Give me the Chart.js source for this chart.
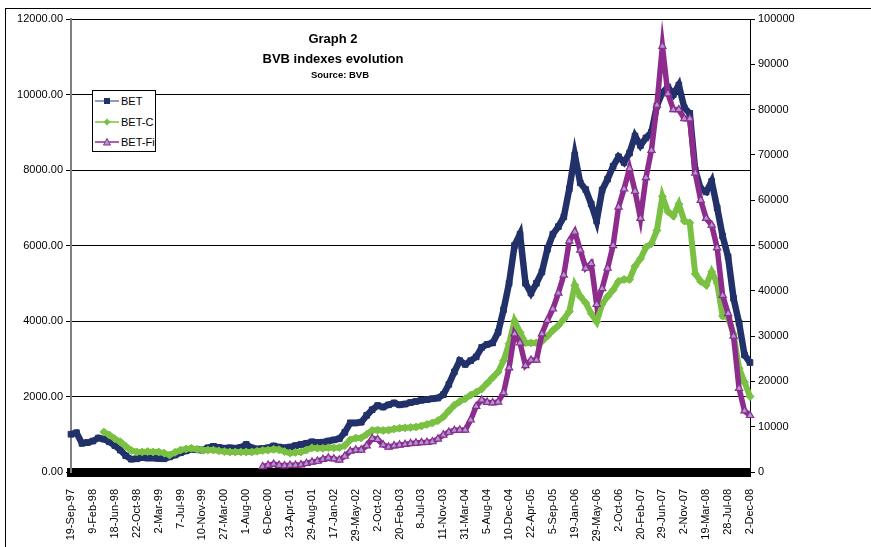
<!DOCTYPE html>
<html>
<head>
<meta charset="utf-8">
<script src="https://cdn.jsdelivr.net/npm/chart.js@4.4.1/dist/chart.umd.min.js"></script>
<style>
    body { margin: 0; background: #fff; font-family: "Liberation Sans", Arial, sans-serif; }
    #wrap { position: relative; width: 871px; height: 547px; overflow: hidden; }
    #frame { position: absolute; left: 5px; top: 8px; width: 900px; height: 600px;
             border-left: 1.5px solid #000; border-top: 1.5px solid #000; }
    #chart { position: absolute; left: 0; top: 0; }
    .title { position: absolute; font-weight: bold; color: #000; white-space: nowrap; transform: translate(-50%, -50%); }
    #legend { position: absolute; left: 92px; top: 90px; width: 62px; height: 60px;
              background: #fff; border: 1px solid #000; font-size: 11px; }
    #legend .row { position: absolute; left: 2px; height: 14px; display: flex; align-items: center; }
    #legend svg { margin-right: 2px; }
</style>
</head>
<body>
<div id="wrap">
    <div id="frame"></div>
    <canvas id="chart" width="871" height="547"></canvas>
    <div class="title" style="left:333px; top:38px; font-size:13px;">Graph 2</div>
    <div class="title" style="left:333px; top:58px; font-size:13px;">BVB indexes evolution</div>
    <div class="title" style="left:340px; top:74px; font-size:9.5px;">Source: BVB</div>
    <div id="legend"></div>
</div>
<script>
// Etiquetas del eje X (una cada 4 puntos)
const tickLabels = ['19-Sep-97', '9-Feb-98', '18-Jun-98', '22-Oct-98', '2-Mar-99', '7-Jul-99', '10-Nov-99',
    '27-Mar-00', '1-Aug-00', '6-Dec-00', '23-Apr-01', '29-Aug-01', '17-Jan-02', '29-May-02', '2-Oct-02',
    '20-Feb-03', '8-Jul-03', '11-Nov-03', '31-Mar-04', '5-Aug-04', '10-Dec-04', '22-Apr-05', '5-Sep-05',
    '19-Jan-06', '29-May-06', '2-Oct-06', '20-Feb-07', '29-Jun-07', '2-Nov-07', '19-Mar-08', '28-Jul-08', '2-Dec-08'];
const pointsPerTick = 4;

const seriesNames = ['BET', 'BET-C', 'BET-Fi'];

// BET (eje izquierdo)
const bet = [1000, 1040, 760, 780, 820, 900, 870, 800, 700, 580,
    430, 340, 350, 380, 370, 370, 360, 350, 400, 450,
    510, 560, 600, 590, 580, 640, 680, 650, 630, 640,
    630, 650, 730, 640, 610, 620, 640, 690, 660, 640,
    660, 700, 730, 760, 800, 780, 790, 820, 850, 880,
    1050, 1300, 1300, 1320, 1500, 1650, 1760, 1720, 1780, 1830,
    1780, 1800, 1840, 1870, 1900, 1920, 1940, 1960, 2050, 2320,
    2650, 2950, 2850, 2950, 3050, 3300, 3380, 3420, 3700, 4300,
    5000, 6000, 6300, 5000, 4740, 5000, 5300, 5900, 6300, 6500,
    6760, 7500, 8400, 7660, 7480, 7100, 6650, 7470, 7760, 8100,
    8350, 8200, 8450, 8900, 8650, 8850, 9000, 9700, 10050, 10200,
    10000, 10250, 9650, 9500, 8000, 7500, 7420, 7700, 7000, 6250,
    5700, 4600, 3950, 3100, 2900];

// BET-C (eje izquierdo)
const betC = [null, null, null, null, null, null, 1060, 980, 880, 800,
    680, 570, 530, 530, 540, 530, 530, 500, 450, 520,
    580, 610, 630, 600, 580, 580, 580, 560, 540, 530,
    530, 530, 530, 530, 550, 570, 580, 600, 590, 540,
    500, 520, 530, 580, 640, 630, 630, 640, 640, 650,
    700, 850, 900, 900, 1000, 1100, 1110, 1100, 1110, 1140,
    1160, 1170, 1180, 1190, 1220, 1260, 1300, 1360, 1460, 1620,
    1770, 1870, 1940, 2040, 2110, 2200, 2350, 2500, 2650, 2950,
    3400, 4000, 3700, 3420, 3420, 3420, 3460, 3600, 3750, 3880,
    4050, 4250, 4950, 4650, 4480, 4200, 3980, 4450, 4650, 4820,
    5050, 5100, 5100, 5450, 5650, 5950, 6050, 6400, 7300, 6900,
    6780, 7100, 6650, 6600, 5250, 5050, 4950, 5300, 5000, 4130,
    4100, 3650, 2750, 2380, 2000];

// BET-Fi (eje derecho)
const betFi = [null, null, null, null, null, null, null, null, null, null,
    null, null, null, null, null, null, null, null, null, null,
    null, null, null, null, null, null, null, null, null, null,
    null, null, null, null, null, 1200, 1500, 1750, 1500, 1400,
    1500, 1500, 1600, 1900, 2200, 2400, 2800, 3090, 2900, 2650,
    3500, 4600, 4860, 4860, 5800, 7400, 7200, 6000, 5500, 5800,
    5960, 6100, 6300, 6400, 6500, 6550, 6700, 7300, 8170, 8800,
    9200, 9270, 9270, 11500, 14500, 15900, 15400, 15300, 15460, 17500,
    23000, 30500, 28500, 23500, 24700, 24700, 30500, 33500, 36000, 39500,
    43500, 51000, 53000, 49000, 45000, 46000, 37000, 40500, 45000, 50000,
    58500, 62500, 67000, 62000, 56000, 65000, 71000, 81000, 94000, 83500,
    80000, 80000, 78000, 78000, 66000, 60000, 56000, 54500, 49500, 39000,
    35000, 30000, 18500, 13500, 12500];

const categories = bet.map((v, i) => i % pointsPerTick === 0 ? tickLabels[i / pointsPerTick] : '');

const styles = [
    { color: '#22316A', line: '#6B78A8', point: 'rect', fill: '#22316A', r: 4 },
    { color: '#7AC143', line: '#7AC143', point: 'rectRot', fill: '#7AC143', r: 4 },
    { color: '#8E2C8E', line: '#8E2C8E', point: 'triangle', fill: '#A99CD2', r: 4.2 }
];

const font = { family: '"Liberation Sans", Arial, sans-serif', size: 11 };

new Chart(document.getElementById('chart'), {
    type: 'line',
    data: {
        labels: categories,
        datasets: [
            { label: seriesNames[0], data: bet, yAxisID: 'y', order: 3,
              borderColor: styles[0].color, backgroundColor: styles[0].fill, borderWidth: 6.5,
              pointStyle: styles[0].point, pointRadius: styles[0].r, pointBorderWidth: 1,
              pointBorderColor: styles[0].color },
            { label: seriesNames[1], data: betC, yAxisID: 'y', order: 2,
              borderColor: styles[1].color, backgroundColor: styles[1].fill, borderWidth: 6,
              pointStyle: styles[1].point, pointRadius: styles[1].r, pointBorderWidth: 1,
              pointBorderColor: styles[1].color },
            { label: seriesNames[2], data: betFi, yAxisID: 'y1', order: 1,
              borderColor: styles[2].color, backgroundColor: styles[2].fill, borderWidth: 5.5,
              pointStyle: styles[2].point, pointRadius: styles[2].r, pointBorderWidth: 1.2,
              pointBorderColor: styles[2].color }
        ]
    },
    options: {
        responsive: false,
        animation: false,
        layout: { padding: { top: 19, left: 0, right: 0, bottom: 0 } },
        plugins: { legend: { display: false }, tooltip: { enabled: false } },
        scales: {
            x: {
                grid: { display: false },
                border: { display: true, color: '#000', width: 9 },
                ticks: {
                    autoSkip: false, maxRotation: 90, minRotation: 90, padding: 9,
                    color: '#000', font: font,
                    callback: function(v, i) { return categories[i]; }
                },
                afterFit: function(s) { s.height = 75; }
            },
            y: {
                position: 'left', min: 0, max: 12000,
                grid: { color: '#000', lineWidth: 1, tickLength: 5 },
                border: { color: '#808080', width: 2 },
                ticks: { stepSize: 2000, padding: 3, color: '#000', font: font,
                         callback: function(v) { return v.toFixed(2); } },
                afterFit: function(s) { s.width = 71; }
            },
            y1: {
                position: 'right', min: 0, max: 100000,
                grid: { drawOnChartArea: false, color: '#000', tickLength: 5 },
                border: { color: '#000', width: 1 },
                ticks: { stepSize: 10000, padding: 3, color: '#000', font: font,
                         callback: function(v) { return String(v); } },
                afterFit: function(s) { s.width = 121; }
            }
        }
    }
});

// Leyenda
const legend = document.getElementById('legend');
seriesNames.forEach((name, i) => {
    const st = styles[i];
    let marker = '';
    if (st.point === 'rect') marker = `<rect x="9" y="2" width="6" height="6" fill="${st.fill}"/>`;
    else if (st.point === 'rectRot') marker = `<polygon points="12,1.5 15.5,5 12,8.5 8.5,5" fill="${st.fill}"/>`;
    else marker = `<polygon points="12,1.5 15.5,8 8.5,8" fill="${st.fill}" stroke="${st.color}" stroke-width="1"/>`;
    const row = document.createElement('div');
    row.className = 'row';
    row.style.top = (3 + i * 20.5) + 'px';
    row.innerHTML = `<svg width="24" height="10"><line x1="0" y1="5" x2="24" y2="5" stroke="${st.line}" stroke-width="1.5"/>${marker}</svg><span>${name}</span>`;
    legend.appendChild(row);
});
</script>
</body>
</html>
